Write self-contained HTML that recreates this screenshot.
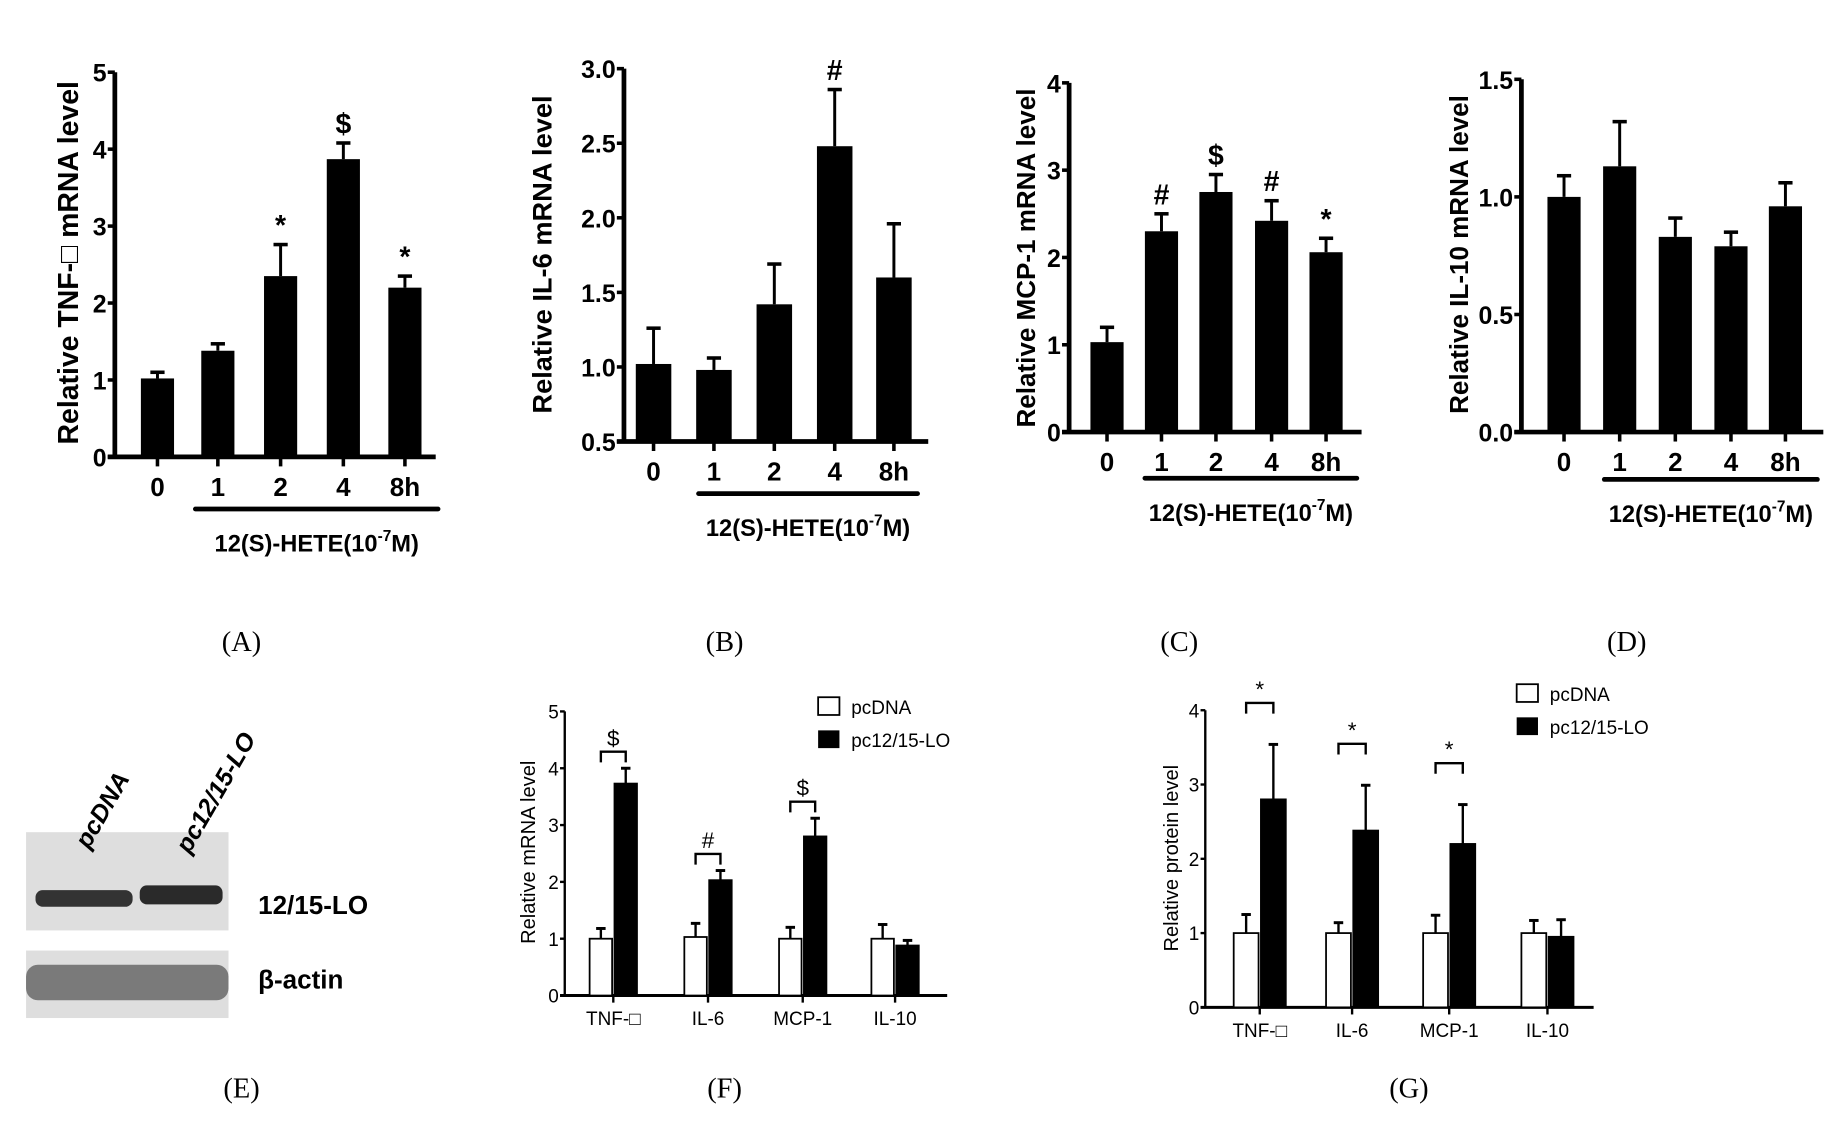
<!DOCTYPE html>
<html><head><meta charset="utf-8"><style>
html,body{margin:0;padding:0;background:#fff;}
svg{display:block;}
text{font-family:"Liberation Sans",sans-serif;fill:#000;}
.t{font-family:"Liberation Sans",sans-serif;font-weight:bold;}
.cap{font-family:"Liberation Serif",serif;font-size:24px;}
</style></head><body>
<svg id="fig" width="1847" height="1121" viewBox="0 0 1560 947" preserveAspectRatio="none" xmlns="http://www.w3.org/2000/svg"></svg>
<script>
// Panel A-D data
const timeCats = ["0","1","2","4","8h"];
const aVals = [1.02,1.38,2.35,3.87,2.2];
const aErr = [1.1,1.47,2.76,4.08,2.35];
const aMarks = ["","","*","$","*"];
const aTicks = ["0","1","2","3","4","5"];
const bVals = [1.02,0.98,1.42,2.48,1.6];
const bErr = [1.26,1.06,1.69,2.86,1.96];
const bMarks = ["","","","#",""];
const bTicks = ["0.5","1.0","1.5","2.0","2.5","3.0"];
const cVals = [1.03,2.3,2.75,2.42,2.06];
const cErr = [1.2,2.5,2.95,2.65,2.22];
const cMarks = ["","#","$","#","*"];
const cTicks = ["0","1","2","3","4"];
const dVals = [1.0,1.13,0.83,0.79,0.96];
const dErr = [1.09,1.32,0.91,0.85,1.06];
const dMarks = ["","","","",""];
const dTicks = ["0.0","0.5","1.0","1.5"];
// Panel F-G data
const geneCats = ["TNF-\u25A1","IL-6","MCP-1","IL-10"];
const fPc = [1,1.03,1,1];
const fPcErr = [1.18,1.27,1.2,1.25];
const fLo = [3.73,2.03,2.8,0.88];
const fLoErr = [4.0,2.2,3.12,0.97];
const fMarks = ["$","#","$",""];
const fTicks = ["0","1","2","3","4","5"];
const gPc = [1,1,1,1];
const gPcErr = [1.25,1.14,1.24,1.17];
const gLo = [2.8,2.38,2.2,0.95];
const gLoErr = [3.54,2.99,2.73,1.18];
const gMarks = ["*","*","*",""];
const gTicks = ["0","1","2","3","4"];

const svg = document.getElementById('fig');
const NS = "http://www.w3.org/2000/svg";
function mk(tag, attrs, txt){const e=document.createElementNS(NS,tag);for(const k in attrs)e.setAttribute(k,attrs[k]);if(txt!==undefined)e.textContent=txt;svg.appendChild(e);return e;}

function timePanel(id, cfg){
  const y = v => cfg.y0 - (v-cfg.vmin)/(cfg.vmax-cfg.vmin)*(cfg.y0-cfg.ytop);
  let e;
  e=mk('line',{x1:cfg.ax,y1:cfg.ytop,x2:cfg.ax,y2:cfg.y0,stroke:'#000','stroke-width':4});
   
  e=mk('line',{x1:cfg.ax-6,y1:cfg.y0,x2:cfg.xend,y2:cfg.y0,stroke:'#000','stroke-width':4});
   
  cfg.ticks.forEach(t=>{
    const v=parseFloat(t), yy=y(v);
    mk('line',{x1:cfg.ax-6,y1:yy,x2:cfg.ax,y2:yy,stroke:'#000','stroke-width':3});
    e=mk('text',{x:cfg.ax-7,y:yy+8,'text-anchor':'end','font-size':21,'font-weight':'bold'},t);
     
  });
  cfg.cats.forEach((c,i)=>{
    const cx=cfg.x[i], yt=y(cfg.vals[i]), ye=y(cfg.err[i]);
    mk('line',{x1:cx,y1:ye,x2:cx,y2:yt,stroke:'#000','stroke-width':2.5});
    mk('line',{x1:cx-6,y1:ye,x2:cx+6,y2:ye,stroke:'#000','stroke-width':3});
    e=mk('rect',{x:cx-cfg.bw/2,y:yt,width:cfg.bw,height:cfg.y0-yt,fill:'#000'});
     
    mk('line',{x1:cx,y1:cfg.y0,x2:cx,y2:cfg.y0+8,stroke:'#000','stroke-width':3});
    e=mk('text',{x:cx,y:cfg.y0+33,'text-anchor':'middle','font-size':22,'font-weight':'bold'},c);
     
    if(cfg.marks[i]){
      e=mk('text',{x:cx,y:ye-8,'text-anchor':'middle','font-size':24,'font-weight':'bold'},cfg.marks[i]);
       
    }
  });
  e=mk('line',{x1:cfg.lx1,y1:cfg.ly,x2:cfg.lx2,y2:cfg.ly,stroke:'#000','stroke-width':4,'stroke-linecap':'round'});
   
  e=mk('text',{x:(cfg.lx1+cfg.lx2)/2,y:cfg.ly+36,'text-anchor':'middle','font-size':20,'font-weight':'bold'});
  e.innerHTML='12(S)-HETE(10<tspan dy="-9" font-size="13">-7</tspan><tspan dy="9">M)</tspan>';
   
  e=mk('text',{x:0,y:0,'text-anchor':'middle','font-size':cfg.tsize||23,class:'t',transform:`translate(${cfg.tx},${cfg.ty}) rotate(-90)`},cfg.title);
   
  e=mk('text',{x:cfg.capx,y:550,'text-anchor':'middle',class:'cap'},cfg.cap);
   
}

timePanel('panel-a',{ax:97,ytop:61,y0:386,vmin:0,vmax:5,xend:368,x:[133,184,237,290,342],bw:28,cats:timeCats,vals:aVals,err:aErr,marks:aMarks,ticks:aTicks,lx1:165,lx2:370,ly:430,title:'Relative TNF-\u25A1 mRNA level',tx:66,ty:222,capx:204,cap:'(A)',tsize:24});
timePanel('panel-b',{ax:527,ytop:58,y0:373,vmin:0.5,vmax:3.0,xend:784,x:[552,603,654,705,755],bw:30,cats:timeCats,vals:bVals,err:bErr,marks:bMarks,ticks:bTicks,lx1:590,lx2:775,ly:417,title:'Relative IL-6 mRNA level',tx:466,ty:215,capx:612,cap:'(B)'});
timePanel('panel-c',{ax:903,ytop:70,y0:365,vmin:0,vmax:4,xend:1150,x:[935,981,1027,1074,1120],bw:28,cats:timeCats,vals:cVals,err:cErr,marks:cMarks,ticks:cTicks,lx1:967,lx2:1146,ly:404,title:'Relative MCP-1 mRNA level',tx:874,ty:218,capx:996,cap:'(C)',tsize:22});
timePanel('panel-d',{ax:1285,ytop:67,y0:365,vmin:0,vmax:1.5,xend:1540,x:[1321,1368,1415,1462,1508],bw:28,cats:timeCats,vals:dVals,err:dErr,marks:dMarks,ticks:dTicks,lx1:1355,lx2:1535,ly:405,title:'Relative IL-10 mRNA level',tx:1240,ty:215,capx:1374,cap:'(D)',tsize:22});

function groupPanel(id,cfg){
  const y = v => cfg.y0 - v/cfg.vmax*(cfg.y0-cfg.ytop);
  let e;
  e=mk('line',{x1:cfg.ax,y1:cfg.ytop,x2:cfg.ax,y2:cfg.y0,stroke:'#000','stroke-width':2});
   
  e=mk('line',{x1:cfg.ax-4,y1:cfg.y0,x2:cfg.xend,y2:cfg.y0,stroke:'#000','stroke-width':2.5});
   
  cfg.ticks.forEach(t=>{
    const yy=y(parseFloat(t));
    mk('line',{x1:cfg.ax-4,y1:yy,x2:cfg.ax,y2:yy,stroke:'#000','stroke-width':2});
    e=mk('text',{x:cfg.ax-5,y:yy+6,'text-anchor':'end','font-size':16},t);
     
  });
  cfg.cats.forEach((c,i)=>{
    const cx=cfg.x[i], bw=cfg.bw;
    const xp=cx-bw-1, xl=cx+1;
    [[xp,cfg.pc[i],cfg.pcErr[i],'#fff','pcdna'],[xl,cfg.lo[i],cfg.loErr[i],'#000','pc12-15-lo']].forEach(b=>{
      const yt=y(b[1]), ye=y(b[2]), mx=b[0]+bw/2;
      mk('line',{x1:mx,y1:ye,x2:mx,y2:yt,stroke:'#000','stroke-width':2});
      mk('line',{x1:mx-4,y1:ye,x2:mx+4,y2:ye,stroke:'#000','stroke-width':2.5});
      e=mk('rect',{x:b[0],y:yt,width:bw,height:cfg.y0-yt,fill:b[3],stroke:'#000','stroke-width':1.5});
       
    });
    mk('line',{x1:cx,y1:cfg.y0,x2:cx,y2:cfg.y0+6,stroke:'#000','stroke-width':2});
    e=mk('text',{x:cx,y:cfg.y0+25,'text-anchor':'middle','font-size':16},c);
     
    if(cfg.marks[i]){
      const by=y(cfg.loErr[i])-cfg.bgap, x1=xp+bw/2, x2=xl+bw/2;
      e=mk('polyline',{points:`${x1},${by+9} ${x1},${by} ${x2},${by} ${x2},${by+9}`,fill:'none',stroke:'#000','stroke-width':2});
       
      e=mk('text',{x:(x1+x2)/2,y:by-5,'text-anchor':'middle','font-size':19},cfg.marks[i]);
       
    }
  });
  e=mk('rect',{x:cfg.lgx,y:cfg.lgy,width:18,height:15,fill:'#fff',stroke:'#000','stroke-width':1.5});
   
  e=mk('text',{x:cfg.lgx+28,y:cfg.lgy+14,'font-size':16},'pcDNA');
   
  e=mk('rect',{x:cfg.lgx,y:cfg.lgy+28,width:18,height:15,fill:'#000'});
   
  e=mk('text',{x:cfg.lgx+28,y:cfg.lgy+42,'font-size':16},'pc12/15-LO');
   
  e=mk('text',{x:0,y:0,'text-anchor':'middle','font-size':17,transform:`translate(${cfg.tx},${cfg.ty}) rotate(-90)`},cfg.title);
   
  e=mk('text',{x:cfg.capx,y:927,'text-anchor':'middle',class:'cap'},cfg.cap);
   
}
groupPanel('panel-f',{ax:477,ytop:601,y0:841,vmax:5,xend:800,x:[518,598,678,756],bw:19,cats:geneCats,pc:fPc,pcErr:fPcErr,lo:fLo,loErr:fLoErr,marks:fMarks,ticks:fTicks,bgap:14,lgx:691,lgy:589,tx:452,ty:720,capx:612,cap:'(F)',title:'Relative mRNA level'});
groupPanel('panel-g',{ax:1018,ytop:600,y0:851,vmax:4,xend:1346,x:[1064,1142,1224,1307],bw:21,cats:geneCats,pc:gPc,pcErr:gPcErr,lo:gLo,loErr:gLoErr,marks:gMarks,ticks:gTicks,bgap:35,lgx:1281,lgy:578,tx:995,ty:725,capx:1190,cap:'(G)',title:'Relative protein level'});

// Panel E blot
let e;
e=mk('rect',{x:22,y:703,width:171,height:83,fill:'#dedede'});
 
mk('rect',{x:30,y:752,width:82,height:14,rx:6,fill:'#333'});
mk('rect',{x:118,y:748,width:70,height:16,rx:6,fill:'#2a2a2a'});
e=mk('rect',{x:22,y:803,width:171,height:57,fill:'#dedede'});
 
mk('rect',{x:22,y:815,width:171,height:30,rx:10,fill:'#7a7a7a'});
e=mk('text',{x:218,y:772,'font-size':22,'font-weight':'bold'},'12/15-LO');
 
e=mk('text',{x:218,y:835,'font-size':22,'font-weight':'bold'},'\u03B2-actin');
 
e=mk('text',{x:0,y:0,'font-size':21,'font-weight':'bold','font-style':'italic',transform:'translate(75,718) rotate(-60)'},'pcDNA');
 
e=mk('text',{x:0,y:0,'font-size':21,'font-weight':'bold','font-style':'italic',transform:'translate(160,722) rotate(-60)'},'pc12/15-LO');
 
e=mk('text',{x:204,y:927,'text-anchor':'middle',class:'cap'},'(E)');
 
</script>
</body></html>
